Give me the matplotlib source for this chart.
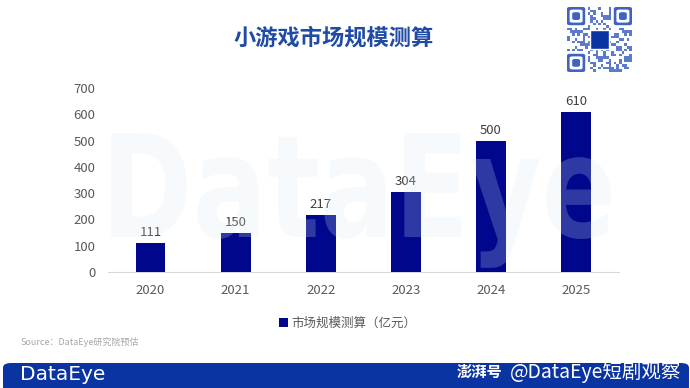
import numpy as np
import matplotlib
matplotlib.use("Agg")
import matplotlib.pyplot as plt
from matplotlib.patches import FancyBboxPatch, Rectangle, PathPatch
from matplotlib.textpath import TextPath
from matplotlib.font_manager import FontProperties
from matplotlib.path import Path

plt.rcParams['font.family'] = ['Noto Sans CJK SC', 'DejaVu Sans']

# data
years = ['2020', '2021', '2022', '2023', '2024', '2025']
market_size = [111, 150, 217, 304, 500, 610]
y_ticks = [0, 100, 200, 300, 400, 500, 600, 700]
title = '小游戏市场规模测算'
legend_label = '市场规模测算（亿元）'
source = 'Source：DataEye研究院预估'

W, H = 690, 388
fig = plt.figure(figsize=(W / 100, H / 100), dpi=100)

def px(x, y):
    # pixel (from top-left) to figure fraction
    return x / W, 1 - y / H

# title
fig.text(*px(334, 38), title, fontsize=16, fontweight='bold',
         color='#1F4BA5', ha='center', va='center')

# plot area
ax = fig.add_axes([108 / W, (H - 272) / H, (618.5 - 108) / W, (272 - 88) / H])
ax.patch.set_alpha(0)
x = np.arange(len(years))
bars = ax.bar(x, market_size, width=0.35, color='#00078C', zorder=3,
              label=legend_label)
for xi, v in zip(x, market_size):
    ax.text(xi, v + 14, str(v), ha='center', va='bottom', fontsize=9.5,
            color='#404040')
ax.set_xlim(-0.5, len(years) - 0.5)
ax.set_ylim(0, 700)
ax.set_yticks(y_ticks)
ax.set_xticks(x)
ax.set_xticklabels(years)
ax.tick_params(axis='both', length=0, labelsize=9.5, labelcolor='#595959')
ax.tick_params(axis='y', pad=9)
ax.tick_params(axis='x', pad=9)
for s in ['top', 'right', 'left']:
    ax.spines[s].set_visible(False)
ax.spines['bottom'].set_color('#D9D9D9')
ax.spines['bottom'].set_linewidth(0.8)

# big translucent watermark over the plot, stretched into its box
tp = TextPath((0, 0), 'DataEye', size=100,
              prop=FontProperties(family='DejaVu Sans', weight='bold'))
verts = tp.vertices.copy()
cap = 72.9  # DejaVu cap height at size 100
x0, x1 = verts[:, 0].min(), verts[:, 0].max()
wx0, wx1, base, top = 101, 611, 237, 133
sx = (wx1 - wx0) / (x1 - x0)
sy = (base - top) / cap
pxs = wx0 + (verts[:, 0] - x0) * sx
pys = base - verts[:, 1] * sy
fverts = np.column_stack([pxs / W, 1 - pys / H])
wm = PathPatch(Path(fverts, tp.codes), transform=fig.transFigure,
               facecolor=(0.84, 0.92, 0.96), alpha=0.22, edgecolor='none',
               zorder=5)
fig.patches.append(wm)

# legend
fig.legend(handles=[bars], labels=[legend_label], loc='center',
           bbox_to_anchor=px(348, 323), frameon=False, fontsize=9,
           labelcolor='#595959', handlelength=0.7, handleheight=0.7,
           handletextpad=0.3)

# source note
fig.text(*px(21, 342), source, fontsize=6.5, color='#A6A6A6',
         ha='left', va='center')

# bottom banner
banner = FancyBboxPatch(px(3, 392), (686) / W, 29 / H,
                        boxstyle='round,pad=0,rounding_size=0.012',
                        transform=fig.transFigure, facecolor='#0B34A3',
                        edgecolor='none', zorder=1)
fig.patches.append(banner)
fig.text(*px(20, 375), 'DataEye', fontsize=14.5, color='white',
         ha='left', va='center', family='DejaVu Sans', zorder=2)
fig.text(*px(457, 372), '澎湃号', fontsize=11, color='white', style='italic',
         fontweight='bold', ha='left', va='center', zorder=2)
fig.text(*px(510, 372), '@DataEye短剧观察', fontsize=14, color='white',
         ha='left', va='center', zorder=2)

# QR-code-like badge in the corner (decoration)
qx0, qy0, qs = 567, 7, 65
n = 25
cell = qs / n
qr_col = '#5C7BCB'
for i in range(n):
    for j in range(n):
        finder = (i < 8 and j < 8) or (i < 8 and j >= n - 8) or (i >= n - 8 and j < 8)
        if finder:
            continue
        if ((i * 7 + j * 13 + (i * j) % 5) % 4) == 0 or ((i ^ (j * 3)) % 5 == 1):
            r = Rectangle(px(qx0 + j * cell, qy0 + (i + 1) * cell), cell / W, cell / H,
                          transform=fig.transFigure, facecolor=qr_col,
                          edgecolor='none', zorder=2)
            fig.patches.append(r)
for (ci, cj) in [(0, 0), (0, n - 7), (n - 7, 0)]:
    for k, col in [(0, '#3F63C0'), (1, 'white'), (2, '#3F63C0')]:
        size = (7 - 2 * k) * cell
        r = FancyBboxPatch(px(qx0 + (cj + k) * cell, qy0 + (ci + k) * cell + size),
                           size / W, size / H,
                           boxstyle='round,pad=0,rounding_size=0.004',
                           transform=fig.transFigure, facecolor=col,
                           edgecolor='none', zorder=3)
        fig.patches.append(r)
c = 7 * cell
fig.patches.append(Rectangle(px(qx0 + qs / 2 - c / 2, qy0 + qs / 2 + c / 2), c / W, c / H,
                             transform=fig.transFigure, facecolor='#0B34A3',
                             edgecolor='white', linewidth=1.0, zorder=4))

fig.savefig('out.png', dpi=100)
